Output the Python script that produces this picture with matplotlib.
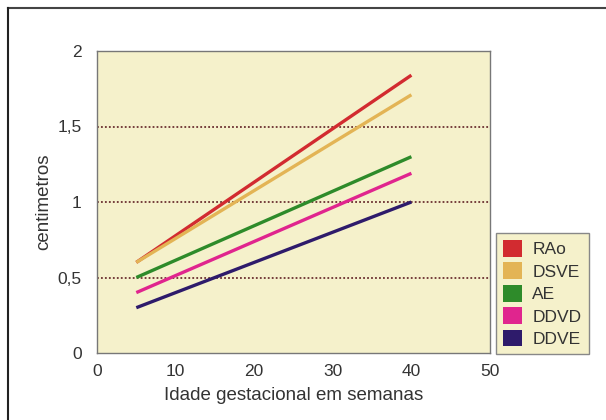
import matplotlib
matplotlib.use("Agg")
from matplotlib import pyplot as plt
from matplotlib.patches import Patch
from matplotlib.lines import Line2D

plt.rcParams['font.family'] = ['Liberation Sans', 'DejaVu Sans']

# data
semanas = [5, 40]
series = ['RAo', 'DSVE', 'AE', 'DDVD', 'DDVE']
inicio = [0.6, 0.6, 0.5, 0.4, 0.3]
fim = [1.84, 1.71, 1.30, 1.19, 1.0]
cores = ['#d22b30', '#e3b455', '#2e8b2a', '#e0258e', '#2e1b6b']

x_ticks = [0, 10, 20, 30, 40, 50]
y_ticks = [0, 0.5, 1, 1.5, 2]
y_tick_labels = ['0', '0,5', '1', '1,5', '2']
grid_y = [0.5, 1, 1.5]

bege = '#f5f1cb'

fig = plt.figure(figsize=(6.06, 4.2), dpi=100)
ax = fig.add_axes([97/606, 1 - 353/420, (490-97)/606, (353-51)/420])
ax.set_facecolor(bege)

for g in grid_y:
    ax.axhline(g, color='#6b3030', lw=1.3, ls=(0, (1, 1.2)), zorder=1)

for nome, y0, y1, c in zip(series, inicio, fim, cores):
    ax.plot(semanas, [y0, y1], color=c, lw=2.4, solid_capstyle='butt', zorder=3)

ax.set_xlim(0, 50)
ax.set_ylim(0, 2)
ax.set_xticks(x_ticks)
ax.set_yticks(y_ticks)
ax.set_yticklabels(y_tick_labels)
ax.tick_params(length=0, labelsize=12.5, colors='#333333')
ax.tick_params(axis='y', pad=11)
ax.tick_params(axis='x', pad=8)
for s in ax.spines.values():
    s.set_color('#777777')
    s.set_linewidth(1)

ax.set_xlabel('Idade gestacional em semanas', fontsize=13.5, color='#333333', labelpad=6)
ax.set_ylabel('centimetros', fontsize=13.5, color='#333333', labelpad=4)

handles = [Patch(facecolor=c, edgecolor='none') for c in cores]
leg = fig.legend(handles, series, loc='lower left',
                 bbox_to_anchor=(496/606, 1 - 354/420),
                 fontsize=12.5, frameon=True, fancybox=False,
                 handlelength=1.1, handleheight=1.1, handletextpad=0.6,
                 labelspacing=0.3, borderpad=0.4, borderaxespad=0)
leg.get_frame().set_facecolor(bege)
leg.get_frame().set_edgecolor('#888888')
leg.get_frame().set_linewidth(1)
leg.get_frame().set_alpha(1)
for t in leg.get_texts():
    t.set_color('#333333')

# outer frame lines at top and left
fig.add_artist(Line2D([8/606, 1], [1 - 7.5/420, 1 - 7.5/420], color='#444444', lw=1.5, transform=fig.transFigure))
fig.add_artist(Line2D([8/606, 8/606], [0, 1 - 7.5/420], color='#222222', lw=1.5, transform=fig.transFigure))

fig.savefig('out.png', dpi=100)
